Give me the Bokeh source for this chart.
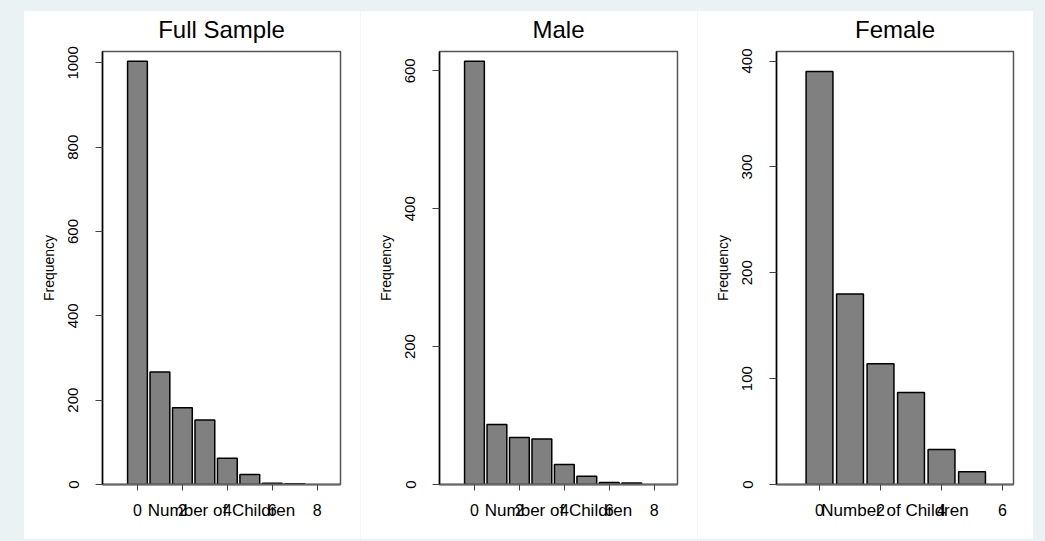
from bokeh.plotting import figure
from bokeh.layouts import row, column
from bokeh.models import Spacer, ColumnDataSource, FixedTicker, Range1d
from bokeh.embed import file_html
from bokeh.resources import INLINE

# ---- data ----
titles = ["Full Sample", "Male", "Female"]
children_full = [0, 1, 2, 3, 4, 5, 6, 7]
freq_full = [1004, 267, 182, 153, 62, 24, 3, 2]
children_male = [0, 1, 2, 3, 4, 5, 6, 7]
freq_male = [614, 87, 68, 66, 29, 12, 3, 2]
children_female = [0, 1, 2, 3, 4, 5]
freq_female = [390, 180, 114, 87, 33, 12]
xticks_8 = [0, 2, 4, 6, 8]
xticks_6 = [0, 2, 4, 6]
yticks_full = [0, 200, 400, 600, 800, 1000]
yticks_male = [0, 200, 400, 600]
yticks_female = [0, 100, 200, 300, 400]

BG = "#eaf2f3"
FONT = "Liberation Sans"
H = 535
TOP_BAND = 7


def panel(title, xs, ys, xr, yr, xticks, yticks, width):
    p = figure(width=width, height=H, output_backend="svg", toolbar_location=None,
               x_range=Range1d(*xr), y_range=Range1d(*yr),
               min_border_left=78, min_border_right=20, min_border_top=47, min_border_bottom=55,
               styles={"background": "linear-gradient(to bottom, %s 0px, %s %dpx, #ffffff %dpx, #ffffff 100%%)"
                       % (BG, BG, TOP_BAND, TOP_BAND)})
    p.background_fill_color = "white"
    p.border_fill_color = None
    p.outline_line_color = "#555555"
    p.outline_line_width = 1.5
    p.grid.visible = False
    src = ColumnDataSource(dict(x=xs, top=ys))
    p.vbar(x="x", top="top", bottom=0, width=0.88, source=src,
           fill_color="#808080", line_color="black", line_width=1.5)

    p.title.text = title
    p.title.align = "center"
    p.title.text_font = FONT
    p.title.text_font_size = "24px"
    p.title.text_font_style = "normal"
    p.title.text_color = "black"
    p.title.standoff = 18

    xa = p.xaxis[0]
    xa.ticker = FixedTicker(ticks=xticks)
    xa.axis_label = "Number of Children"
    xa.axis_label_text_font = FONT
    xa.axis_label_text_font_size = "17px"
    xa.axis_label_text_font_style = "normal"
    xa.axis_label_text_color = "black"
    xa.axis_label_standoff = -18
    xa.major_label_text_font = FONT
    xa.major_label_text_font_size = "16px"
    xa.major_label_text_color = "black"
    xa.major_label_standoff = 13
    xa.major_tick_out = 6
    xa.major_tick_in = 0
    xa.minor_tick_line_color = None
    xa.axis_line_color = "#666666"
    xa.axis_line_width = 2
    xa.major_tick_line_color = "#444444"

    ya = p.yaxis[0]
    ya.ticker = FixedTicker(ticks=yticks)
    ya.axis_label = "Frequency"
    ya.axis_label_text_font = FONT
    ya.axis_label_text_font_size = "14px"
    ya.axis_label_text_font_style = "normal"
    ya.axis_label_text_color = "black"
    ya.axis_label_standoff = 9
    ya.major_label_orientation = "vertical"
    ya.major_label_text_font = FONT
    ya.major_label_text_font_size = "15px"
    ya.major_label_text_color = "black"
    ya.major_label_standoff = 17
    ya.major_tick_out = 7
    ya.major_tick_in = 0
    ya.minor_tick_line_color = None
    ya.axis_line_color = "black"
    ya.axis_line_width = 1.5
    ya.major_tick_line_color = "#444444"
    return p


p1 = panel(titles[0], children_full, freq_full, (-1.556, 9.036), (0, 1027), xticks_8, yticks_full, 336)
p2 = panel(titles[1], children_male, freq_male, (-1.556, 9.036), (0, 628), xticks_8, yticks_male, 336)
p3 = panel(titles[2], children_female, freq_female, (-1.41, 6.36), (0, 409), xticks_6, yticks_female, 335)

sep = "#f1f6f7"
layout = column(
    Spacer(width=1045, height=4, styles={"background-color": BG}),
    row(
        Spacer(width=24, height=H, styles={"background-color": BG}),
        p1,
        Spacer(width=1, height=H, styles={"background": "linear-gradient(to bottom, %s 0px, %s %dpx, %s %dpx)"
                                                        % (BG, BG, TOP_BAND, sep, TOP_BAND)}),
        p2,
        Spacer(width=1, height=H, styles={"background": "linear-gradient(to bottom, %s 0px, %s %dpx, %s %dpx)"
                                                        % (BG, BG, TOP_BAND, sep, TOP_BAND)}),
        p3,
        Spacer(width=12, height=H, styles={"background-color": BG}),
    ),
    Spacer(width=1045, height=2, styles={"background-color": BG}),
    styles={"background-color": BG},
)

html = file_html(layout, INLINE)
html = html.replace("<body>", '<body style="background-color:%s;">' % BG, 1)
open("out.html", "w").write(html)
